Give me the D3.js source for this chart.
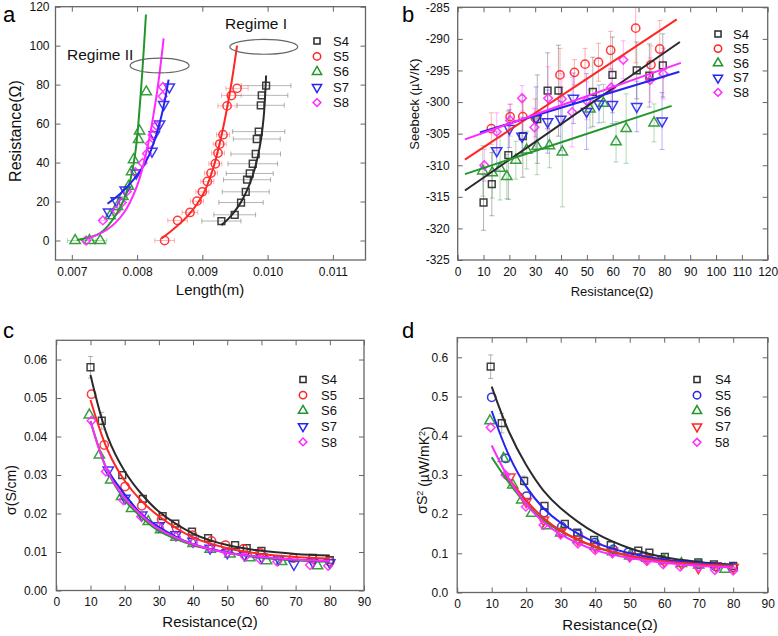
<!DOCTYPE html>
<html><head><meta charset="utf-8">
<script src="https://cdn.jsdelivr.net/npm/d3@7"></script>
<style>
html,body{margin:0;padding:0;background:#fff;}
svg{display:block;font-family:"Liberation Sans",Arial,Helvetica,sans-serif;}
</style></head><body>
<script>
// ---------------- Panel a : Resistance vs Length ----------------
const aLenTicks = [0.007,0.008,0.009,0.010,0.011];
const aResTicks = [0,20,40,60,80,100,120];
const aS4Len = [0.009292,0.009496,0.009593,0.009665,0.009685,0.009726,0.009772,0.009818,0.009834,0.009864,0.009895,0.009910,0.009977];
const aS4Res = [10,13.2,19.5,25,31.2,34.4,39.4,44.4,52.1,55.9,69.4,74.5,79.5];
const aS4Err = [0.0003,0.00032,0.00034,0.00036,0.00036,0.00036,0.00038,0.00038,0.00036,0.0004,0.00036,0.0004,0.00038];
const aS5Len = [0.008422,0.008621,0.008811,0.008918,0.009000,0.009077,0.009133,0.009199,0.009240,0.009266,0.009317,0.009379,0.009445,0.009532];
const aS5Res = [0,10.3,14.4,20.2,25,30.3,34.6,39.4,44.9,49.5,54.3,69.1,74.4,78.1];
const aS5Err = [0.00015,0.00015,0.00012,0.0001,0.0001,0.0001,0.0001,0.0001,0.0001,0.0001,0.0001,0.00014,0.00015,0.00017];
const aS6Len = [0.007051,0.007271,0.007435,0.007588,0.007701,0.007783,0.007870,0.007916,0.007946,0.008023,0.008038,0.008141];
const aS6Res = [0,0,0,12.7,17.5,22.6,27.8,35.3,41.5,51.8,56.2,76.3];
const aS6Err = [0.00012,0.0001,0.0001,0.00006,0.00005,0.00005,0.00005,0,0,0,0,0];
const aS7Len = [0.007563,0.007680,0.007818,0.007987,0.008228,0.008263,0.008345,0.008407,0.008494];
const aS7Res = [14.7,20.4,26,34.6,45.8,54.3,59.8,69.8,78.8];
const aS8Len = [0.007220,0.007476,0.007680,0.007767,0.007844,0.007972,0.008084,0.008151,0.008192,0.008238,0.008294,0.008391,0.008396];
const aS8Res = [0,10.3,15.3,19.5,25.2,35.1,39.8,44.6,49.7,54.3,59,74,78.8];
const aS8Err = [0.00006,0.00005,0.00005,0.00004,0.00004,0,0,0,0,0,0,0,0];
const aFitS4Len = [0.009292,0.009430,0.009583,0.009711,0.009813,0.009890,0.009941,0.009977];
const aFitS4Res = [7.9,12.3,19.2,27.8,38,50,63.8,84.7];
const aFitS5Len = [0.008376,0.008765,0.009020,0.009174,0.009302,0.009430,0.009532];
const aFitS5Res = [1,12.3,24.3,38,55.2,77.5,100];
const aFitS6Len = [0.007077,0.007435,0.007691,0.007870,0.007972,0.008049,0.008136];
const aFitS6Res = [0.3,3.8,14,27.8,44.9,72.3,116];
const aFitS7Len = [0.007547,0.007742,0.007946,0.008151,0.008304,0.008407,0.008483];
const aFitS7Res = [18.9,24,31.2,41.5,55.2,68.9,82.6];
const aFitS8Len = [0.007220,0.007537,0.007793,0.007997,0.008151,0.008304,0.008407];
const aFitS8Res = [0.7,5.5,14,27.8,46.6,75.8,103.7];
const regimeNames = ["Regime II","Regime I"];
const regimeLen = [0.008345,0.009941];
const regimeRes = [89.8,99.4];

// ---------------- Panel b : Seebeck vs Resistance ----------------
const bResTicks = [0,10,20,30,40,50,60,70,80,90,100,110,120];
const bSeeTicks = [-325,-320,-315,-310,-305,-300,-295,-290,-285];
const bS4R = [10,13.2,19.6,25.2,30.8,34.8,39,52.3,59.9,69.3,74.2,79.4];
const bS4S = [-315.9,-313,-308.4,-305.4,-302.7,-298.2,-298.2,-298.4,-295.7,-295,-295.8,-294.2];
const bS4E = [4.4,5,7,6.5,7,6,7.2,5.5,6,4.5,5,5];
const bS5R = [13,20.3,25.2,30,39.6,45.2,49.3,54.5,59.2,68.9,74.8,78.2];
const bS5S = [-304.2,-302.3,-302.3,-302.5,-295.7,-295.3,-294,-293.7,-291.8,-288.3,-294.1,-291.6];
const bS5E = [2.5,2,2.5,3,4.2,2,2.5,3,3,5.5,3,4.5];
const bS6R = [9.7,13.4,16.4,19,22.5,26.7,30.7,35.5,40.5,51.2,56.4,61.3,65.2,76];
const bS6S = [-310.9,-311.2,-310.5,-311.8,-309.2,-307.6,-307,-306.9,-307.9,-301.1,-300.2,-306.3,-304.2,-303.3];
const bS6E = [4,4,5,3.5,3,3,4.5,3.5,8.7,3,3,3.2,5.5,3];
const bS7R = [15.1,20,24.9,30.3,34.8,39.9,44.8,49.9,54.7,59.9,69.3,79.1];
const bS7S = [-307.7,-304.2,-305.4,-302.6,-303.1,-302.7,-299.4,-301.5,-300.3,-300.4,-300.7,-303];
const bS7E = [3,3,3,5,5,5,4,6,3,3,4,4.5];
const bS8R = [10.3,15.1,20.3,24.9,29.7,35,40.3,44.3,49.9,59.4,64.1,74.5,79.6];
const bS8S = [-310,-304.7,-302.9,-299.4,-304,-299.4,-299.5,-301.6,-299.8,-297.7,-293.3,-296.5,-295.5];
const bS8E = [2.5,3,2.5,2,3,5,4,5.5,3,3,3,3.5,4];
const bFitS4R = [2.8,86], bFitS4S = [-314,-290.5];
const bFitS5R = [2.8,84.8], bFitS5S = [-309.1,-286.9];
const bFitS6R = [2.8,82.8], bFitS6S = [-311.4,-300.6];
const bFitS7R = [8.6,85.8], bFitS7S = [-304.8,-295.2];
const bFitS8R = [2.8,86.4], bFitS8S = [-305.9,-293.8];

// ---------------- Panel c : conductivity vs Resistance ----------------
const cResTicks = [0,10,20,30,40,50,60,70,80,90];
const cSigTicks = [0,0.01,0.02,0.03,0.04,0.05,0.06];
const cS4R = [10,13.3,19.3,25.3,31.1,34.8,39.7,44.4,52.3,55.7,60,75,80];
const cS4Y = [0.058,0.0441,0.030,0.0238,0.0193,0.0174,0.0153,0.0136,0.0118,0.011,0.0103,0.0085,0.0079];
const cS4E = [0.0028,0.0022,0,0,0,0,0,0,0,0,0,0,0];
const cS5R = [10.3,14,20.1,25,30.8,35.2,39.8,45.4,49.5,54.7,59.6,69.3,75,80];
const cS5Y = [0.051,0.0378,0.027,0.022,0.0185,0.0162,0.0144,0.0129,0.0118,0.0108,0.0098,0.0084,0.0082,0.0075];
const cS6R = [9.65,12.6,15.9,19.1,22,26.9,30.5,35,40,45,50.8,56.6,61.5,65.9,76.4];
const cS6Y = [0.0456,0.0352,0.0287,0.0244,0.0213,0.0179,0.0158,0.0138,0.0122,0.0107,0.0095,0.0085,0.0077,0.0075,0.0064];
const cS7R = [15.2,20.1,25,30,35,40,45,50,55,60,65,69.5,75,80];
const cS7Y = [0.0313,0.024,0.0196,0.0168,0.0145,0.0128,0.011,0.0098,0.0093,0.0087,0.0082,0.0068,0.0075,0.0072];
const cS8R = [10.3,14.5,19.6,24.8,30,35,40,45,50,55.2,59.6,64.6,74.2,79.5];
const cS8Y = [0.0441,0.0309,0.0235,0.0192,0.0165,0.014,0.0125,0.011,0.0098,0.0088,0.0081,0.0075,0.0066,0.0064];
const cFitR = [10,15,20,25,30,40,50,60,70,80];
const cFitS4 = [0.056,0.040,0.031,0.025,0.0205,0.0148,0.0118,0.0103,0.0095,0.0091];
const cFitS5 = [0.0495,0.0365,0.0285,0.0232,0.0193,0.0138,0.011,0.0095,0.0087,0.0083];
const cFitS6 = [0.044,0.031,0.0235,0.019,0.0155,0.0118,0.0098,0.0085,0.0078,0.0075];
const cFitS7R = [15,20,25,30,40,50,60,70,80];
const cFitS7 = [0.031,0.025,0.0197,0.0165,0.012,0.0099,0.0087,0.008,0.0077];
const cFitS8 = [0.044,0.031,0.024,0.0195,0.016,0.012,0.0098,0.0087,0.008,0.0077];

// ---------------- Panel d : power factor vs Resistance ----------------
const dResTicks = [0,10,20,30,40,50,60,70,80,90];
const dPfTicks = [0,0.1,0.2,0.3,0.4,0.5,0.6];
const dS4R = [9.7,12.9,19.4,25.3,31.2,34.8,39.7,44.5,52.5,55.7,60.2,69.9,74.4,80];
const dS4Y = [0.576,0.432,0.285,0.221,0.175,0.153,0.134,0.121,0.107,0.102,0.091,0.077,0.072,0.068];
const dS4E = [0.03,0.025,0.012,0,0,0,0,0,0,0,0,0,0,0];
const dS5R = [10,14.1,20.1,25.2,30.3,35,39.9,45.2,49.6,53.9,59.3,70,75,80];
const dS5Y = [0.498,0.342,0.246,0.204,0.168,0.148,0.127,0.110,0.1025,0.0914,0.083,0.072,0.066,0.064];
const dS6R = [9.5,13.4,16.1,18.7,21.6,26,30,35,40,45,50,55,60,65,70,77.6];
const dS6Y = [0.438,0.342,0.274,0.236,0.202,0.17,0.152,0.135,0.118,0.104,0.093,0.087,0.082,0.074,0.07,0.059];
const dS7R = [15.3,20,25,30,35,40,45,50,55,60,65,69.9,75,80];
const dS7Y = [0.295,0.232,0.185,0.155,0.135,0.117,0.105,0.094,0.087,0.08,0.074,0.063,0.068,0.064];
const dS8R = [9.7,14,19.9,25,30,35,40,45,50,55,59.7,64.6,70,74.7,80];
const dS8Y = [0.421,0.3,0.219,0.172,0.148,0.125,0.108,0.1,0.09,0.08,0.072,0.066,0.065,0.0574,0.0557];
const dFitR = [10,15,20,25,30,40,50,60,70,80];
const dFitS4 = [0.525,0.41,0.325,0.26,0.215,0.152,0.113,0.09,0.078,0.071];
const dFitS5 = [0.463,0.35,0.27,0.215,0.178,0.128,0.10,0.084,0.075,0.07];
const dFitS6 = [0.345,0.28,0.225,0.185,0.156,0.116,0.093,0.08,0.072,0.068];
const dFitS7R = [15,20,25,30,40,50,60,70,80];
const dFitS7 = [0.29,0.235,0.19,0.158,0.117,0.094,0.08,0.072,0.067];
const dFitS8 = [0.375,0.29,0.225,0.18,0.148,0.108,0.088,0.076,0.068,0.064];

const seriesNames = ["S4","S5","S6","S7","S8"];
const dLegendNames = ["S4","S5","S6","S7","58"];

// ---------------- drawing ----------------
const C = {k:'#2a2a2a', r:'#ff2626', g:'#22962a', b:'#2424ee', m:'#ff28ff'};
const svg = d3.select('body').append('svg').attr('width',778).attr('height',636);

function symPath(type, size){
  const t = {square:d3.symbolSquare, circle:d3.symbolCircle, up:d3.symbolTriangle, down:d3.symbolTriangle, diamond:d3.symbolSquare}[type];
  return d3.symbol(t, size)();
}
const symSize = {square:46, circle:54, up:46, down:46, diamond:38};
const symRot = {square:0, circle:0, up:0, down:180, diamond:45};

let clipId = 0;
function drawPanel(p){
  const w = p.right-p.left, h = p.bottom-p.top;
  const g = svg.append('g').attr('transform',`translate(${p.left},${p.top})`);
  const x = d3.scaleLinear().domain(p.xDom).range([0,w]);
  const y = d3.scaleLinear().domain(p.yDom).range([h,0]);
  const cid = 'clip'+(clipId++);
  g.append('clipPath').attr('id',cid).append('rect').attr('width',w).attr('height',h);

  const styleAxis = sel => {
    sel.select('.domain').remove();
    sel.selectAll('.tick line').attr('stroke','#666').attr('stroke-width',1);
    sel.selectAll('.tick text').attr('fill','#111').style('font-size','12px')
       .style('font-family','"Liberation Sans",Arial,sans-serif');
  };
  g.append('g').attr('transform',`translate(0,${h})`)
    .call(d3.axisBottom(x).tickValues(p.xTicks).tickFormat(p.xFmt).tickSize(-5).tickPadding(7)).call(styleAxis);
  g.append('g').call(d3.axisTop(x).tickValues(p.xTicks).tickFormat('').tickSize(-5)).call(styleAxis);
  g.append('g').call(d3.axisLeft(y).tickValues(p.yTicks).tickFormat(p.yFmt).tickSize(-5).tickPadding(p.yPad||7)).call(styleAxis);
  g.append('g').attr('transform',`translate(${w},0)`)
    .call(d3.axisRight(y).tickValues(p.yTicks).tickFormat('').tickSize(-5)).call(styleAxis);

  const plot = g.append('g').attr('clip-path',`url(#${cid})`);
  // error bars
  p.series.forEach(s => {
    if(!s.err) return;
    const eg = plot.append('g').attr('stroke',s.color).attr('stroke-opacity',0.35).attr('stroke-width',1).attr('fill','none');
    s.xs.forEach((xv,i) => {
      const e = s.err[i]; if(!e) return;
      if(s.errDir==='x'){
        const yy=y(s.ys[i]), x0=x(xv-e), x1=x(xv+e);
        eg.append('line').attr('x1',x0).attr('x2',x1).attr('y1',yy).attr('y2',yy);
        eg.append('line').attr('x1',x0).attr('x2',x0).attr('y1',yy-2.5).attr('y2',yy+2.5);
        eg.append('line').attr('x1',x1).attr('x2',x1).attr('y1',yy-2.5).attr('y2',yy+2.5);
      } else {
        const xx=x(xv), y0=y(s.ys[i]-e), y1=y(s.ys[i]+e);
        eg.append('line').attr('x1',xx).attr('x2',xx).attr('y1',y0).attr('y2',y1);
        eg.append('line').attr('x1',xx-2.5).attr('x2',xx+2.5).attr('y1',y0).attr('y2',y0);
        eg.append('line').attr('x1',xx-2.5).attr('x2',xx+2.5).attr('y1',y1).attr('y2',y1);
      }
    });
  });
  // markers
  p.series.forEach(s => {
    const mg = plot.append('g');
    s.xs.forEach((xv,i) => {
      mg.append('path').attr('d',symPath(s.sym,symSize[s.sym]))
        .attr('transform',`translate(${x(xv)},${y(s.ys[i])}) rotate(${symRot[s.sym]})`)
        .attr('fill','none').attr('stroke',s.color).attr('stroke-width',1.5).attr('stroke-opacity',0.9);
    });
  });
  // fits
  p.series.forEach(s => {
    if(!s.fx) return;
    plot.append('path').datum(d3.zip(s.fx,s.fy))
      .attr('d', d3.line().x(d=>x(d[0])).y(d=>y(d[1])).curve(s.fx.length>2?d3.curveCatmullRom:d3.curveLinear))
      .attr('fill','none').attr('stroke',s.color).attr('stroke-width',2);
  });
  // frame
  g.append('rect').attr('width',w).attr('height',h).attr('fill','none').attr('stroke','#666').attr('stroke-width',1.3);
  // legend
  const lg = svg.append('g');
  p.series.forEach((s,i) => {
    const yy = p.leg.y0 + i*p.leg.dy;
    lg.append('path').attr('d',symPath(s.sym,symSize[s.sym]*0.8))
      .attr('transform',`translate(${p.leg.mx},${yy}) rotate(${symRot[s.sym]})`)
      .attr('fill','none').attr('stroke',s.color).attr('stroke-width',1.5);
    lg.append('text').attr('x',p.leg.tx).attr('y',yy).attr('dy','0.36em')
      .style('font-size','13px').attr('fill','#111').text(p.legNames[i]);
  });
  // letter
  svg.append('text').attr('x',p.letter[1]).attr('y',p.letter[2]).style('font-size','22px').attr('fill','#000').text(p.letter[0]);
  // x title
  svg.append('text').attr('x',p.xt[0]).attr('y',p.xt[1]).attr('text-anchor','middle')
     .style('font-size',p.xt[2]+'px').attr('fill','#111').text(p.xTitle);
  // y title
  const yt = svg.append('text').attr('transform',`translate(${p.yt[0]},${p.yt[1]}) rotate(-90)`)
     .attr('text-anchor','middle').style('font-size',p.yt[2]+'px').attr('fill','#111');
  p.yTitle(yt);
  return {g,x,y};
}

const A = drawPanel({
  left:55.5, top:6.7, right:365.5, bottom:260,
  xDom:[0.00675,0.0115], yDom:[-10,120],
  xTicks:aLenTicks, yTicks:aResTicks, xFmt:d3.format('.3f'), yFmt:d=>String(d), yPad:6,
  series:[
    {xs:aS4Len, ys:aS4Res, err:aS4Err, errDir:'x', sym:'square', color:C.k, fx:aFitS4Len, fy:aFitS4Res},
    {xs:aS5Len, ys:aS5Res, err:aS5Err, errDir:'x', sym:'circle', color:C.r, fx:aFitS5Len, fy:aFitS5Res},
    {xs:aS6Len, ys:aS6Res, err:aS6Err, errDir:'x', sym:'up', color:C.g, fx:aFitS6Len, fy:aFitS6Res},
    {xs:aS7Len, ys:aS7Res, sym:'down', color:C.b, fx:aFitS7Len, fy:aFitS7Res},
    {xs:aS8Len, ys:aS8Res, err:aS8Err, errDir:'x', sym:'diamond', color:C.m, fx:aFitS8Len, fy:aFitS8Res}
  ],
  leg:{mx:317, tx:333, y0:41, dy:15.4}, legNames:seriesNames,
  letter:['a',3,22], xTitle:'Length(m)', xt:[210,295,15],
  yt:[21,131,16], yTitle:t=>t.text('Resistance(Ω)')
});
// regime ellipses and labels
regimeNames.forEach((n,i)=>{
  const cx = A.x(regimeLen[i])+55.5, cy = A.y(regimeRes[i])+6.7;
  svg.append('ellipse').attr('cx',cx).attr('cy',cy).attr('rx',i?34:29.5).attr('ry',7.4)
     .attr('fill','none').attr('stroke','#666').attr('stroke-width',1.2);
});
svg.append('text').attr('x',67).attr('y',60).style('font-size','15.5px').attr('fill','#111').text(regimeNames[0]);
svg.append('text').attr('x',225).attr('y',29).style('font-size','15.5px').attr('fill','#111').text(regimeNames[1]);

drawPanel({
  left:457.7, top:7.3, right:767.7, bottom:260,
  xDom:[0,120], yDom:[-325,-285],
  xTicks:bResTicks, yTicks:bSeeTicks, xFmt:d=>String(d), yFmt:d=>String(d), yPad:8,
  series:[
    {xs:bS4R, ys:bS4S, err:bS4E, errDir:'y', sym:'square', color:C.k, fx:bFitS4R, fy:bFitS4S},
    {xs:bS5R, ys:bS5S, err:bS5E, errDir:'y', sym:'circle', color:C.r, fx:bFitS5R, fy:bFitS5S},
    {xs:bS6R, ys:bS6S, err:bS6E, errDir:'y', sym:'up', color:C.g, fx:bFitS6R, fy:bFitS6S},
    {xs:bS7R, ys:bS7S, err:bS7E, errDir:'y', sym:'down', color:C.b, fx:bFitS7R, fy:bFitS7S},
    {xs:bS8R, ys:bS8S, err:bS8E, errDir:'y', sym:'diamond', color:C.m, fx:bFitS8R, fy:bFitS8S}
  ],
  leg:{mx:718, tx:733, y0:34, dy:14.6}, legNames:seriesNames,
  letter:['b',402,22], xTitle:'Resistance(Ω)', xt:[612,296,13],
  yt:[419,104,13], yTitle:t=>t.text('Seebeck (µV/K)')
});

drawPanel({
  left:56.3, top:340.3, right:364, bottom:590.5,
  xDom:[0,90], yDom:[0,0.065],
  xTicks:cResTicks, yTicks:cSigTicks, xFmt:d=>String(d), yFmt:d3.format('.2f'), yPad:9,
  series:[
    {xs:cS4R, ys:cS4Y, err:cS4E, errDir:'y', sym:'square', color:C.k, fx:cFitR, fy:cFitS4},
    {xs:cS5R, ys:cS5Y, sym:'circle', color:C.r, fx:cFitR, fy:cFitS5},
    {xs:cS6R, ys:cS6Y, sym:'up', color:C.g, fx:cFitR, fy:cFitS6},
    {xs:cS7R, ys:cS7Y, sym:'down', color:C.b, fx:cFitS7R, fy:cFitS7},
    {xs:cS8R, ys:cS8Y, sym:'diamond', color:C.m, fx:cFitR, fy:cFitS8}
  ],
  leg:{mx:303, tx:321, y0:379.5, dy:15.6}, legNames:seriesNames,
  letter:['c',3,338], xTitle:'Resistance(Ω)', xt:[210,627,15],
  yt:[16,490,14], yTitle:t=>t.text('σ(S/cm)')
});

drawPanel({
  left:457.2, top:337.7, right:767.7, bottom:592.5,
  xDom:[0,90], yDom:[0,0.65],
  xTicks:dResTicks, yTicks:dPfTicks, xFmt:d=>String(d), yFmt:d3.format('.1f'), yPad:9,
  series:[
    {xs:dS4R, ys:dS4Y, err:dS4E, errDir:'y', sym:'square', color:C.k, fx:dFitR, fy:dFitS4},
    {xs:dS5R, ys:dS5Y, sym:'circle', color:C.b, fx:dFitR, fy:dFitS5},
    {xs:dS6R, ys:dS6Y, sym:'up', color:C.g, fx:dFitR, fy:dFitS6},
    {xs:dS7R, ys:dS7Y, sym:'down', color:C.r, fx:dFitS7R, fy:dFitS7},
    {xs:dS8R, ys:dS8Y, sym:'diamond', color:C.m, fx:dFitR, fy:dFitS8}
  ],
  leg:{mx:697, tx:715, y0:379.5, dy:15.7}, legNames:dLegendNames,
  letter:['d',402,338], xTitle:'Resistance(Ω)', xt:[610,630,15],
  yt:[427,470,14], yTitle:t=>{
    t.append('tspan').text('σS');
    t.append('tspan').attr('dy','-0.45em').style('font-size','9px').text('2');
    t.append('tspan').attr('dy','0.45em').text(' (µW/mK');
    t.append('tspan').attr('dy','-0.45em').style('font-size','9px').text('2');
    t.append('tspan').attr('dy','0.45em').text(')');
  }
});
</script>
</body></html>
